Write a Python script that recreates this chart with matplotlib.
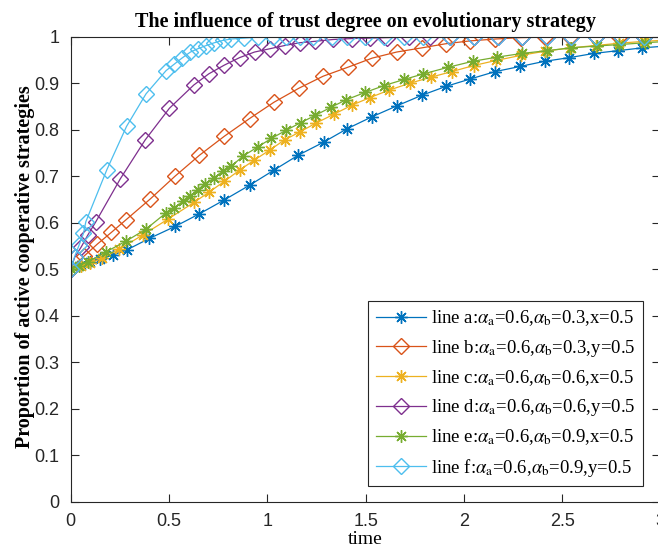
import numpy as np
import matplotlib
matplotlib.use("Agg")
import matplotlib.pyplot as plt

# (ode solver time points)
t_a = [0, 0.05, 0.10, 0.15, 0.213, 0.284, 0.40, 0.532, 0.655, 0.782, 0.912, 1.034, 1.157, 1.286,
       1.406, 1.534, 1.658, 1.786, 1.908, 2.032, 2.16, 2.286, 2.41, 2.537, 2.661, 2.784, 2.908, 3.0]
y_a = [0.5, 0.508, 0.515, 0.522, 0.530, 0.541, 0.566, 0.592, 0.619, 0.649, 0.681, 0.713, 0.745, 0.773,
       0.802, 0.828, 0.851, 0.874, 0.893, 0.909, 0.925, 0.936, 0.947, 0.955, 0.964, 0.970, 0.976, 0.979]

t_b = [0, 0.068, 0.136, 0.207, 0.281, 0.405, 0.531, 0.655, 0.782, 0.91, 1.034, 1.16, 1.284, 1.408,
       1.534, 1.658, 1.786, 1.91, 2.032, 2.16, 2.29, 2.415, 2.542, 2.67, 2.79, 2.917, 3.0]
y_b = [0.5, 0.528, 0.554, 0.579, 0.606, 0.651, 0.700, 0.745, 0.786, 0.824, 0.859, 0.889, 0.915, 0.934,
       0.954, 0.967, 0.976, 0.985, 0.991, 0.995, 0.998, 0.999, 1.0, 1.0, 1.0, 1.0, 1.0]

t_c = [0, 0.05, 0.10, 0.16, 0.247, 0.369, 0.493, 0.629, 0.702, 0.782, 0.859, 0.932, 1.012, 1.088,
       1.165, 1.247, 1.338, 1.432, 1.522, 1.619, 1.726, 1.833, 1.939, 2.05, 2.165, 2.292, 2.415,
       2.542, 2.67, 2.79, 2.917, 3.0]
y_c = [0.5, 0.506, 0.513, 0.523, 0.543, 0.574, 0.607, 0.644, 0.665, 0.689, 0.713, 0.734, 0.756, 0.778,
       0.795, 0.814, 0.833, 0.853, 0.869, 0.885, 0.900, 0.913, 0.925, 0.938, 0.949, 0.960, 0.969,
       0.976, 0.981, 0.986, 0.990, 0.992]

t_d = [0, 0.02, 0.054, 0.088, 0.128, 0.252, 0.379, 0.502, 0.626, 0.702, 0.782, 0.859, 0.935, 1.012,
       1.088, 1.165, 1.241, 1.335, 1.43, 1.522, 1.61, 1.72, 1.83, 1.93, 2.05, 2.173, 2.296, 2.423,
       2.547, 2.67, 2.797, 2.917, 3.0]
y_d = [0.5, 0.525, 0.548, 0.574, 0.602, 0.694, 0.778, 0.846, 0.896, 0.920, 0.939, 0.955, 0.967, 0.974,
       0.981, 0.987, 0.990, 0.994, 0.996, 0.997, 0.998, 0.999, 0.999, 1.0, 1.0, 1.0, 1.0, 1.0,
       1.0, 1.0, 1.0, 1.0, 1.0]

t_e = [0, 0.04, 0.09, 0.179, 0.281, 0.383, 0.485, 0.527, 0.570, 0.609, 0.646, 0.685, 0.731, 0.774,
       0.816, 0.876, 0.952, 1.02, 1.097, 1.17, 1.245, 1.323, 1.40, 1.497, 1.595, 1.696, 1.794,
       1.918, 2.044, 2.168, 2.296, 2.423, 2.547, 2.675, 2.79, 2.92, 3.0]
y_e = [0.5, 0.507, 0.516, 0.537, 0.560, 0.586, 0.621, 0.631, 0.646, 0.658, 0.671, 0.684, 0.696, 0.711,
       0.721, 0.743, 0.763, 0.781, 0.799, 0.815, 0.831, 0.848, 0.864, 0.880, 0.895, 0.908, 0.920,
       0.934, 0.947, 0.956, 0.964, 0.970, 0.976, 0.980, 0.983, 0.987, 0.989]

t_f = [0, 0.02, 0.043, 0.065, 0.077, 0.184, 0.284, 0.383, 0.485, 0.527, 0.566, 0.609, 0.646, 0.689,
       0.731, 0.774, 0.816, 0.884, 0.952, 1.029, 1.097, 1.165, 1.233, 1.327, 1.403, 1.497, 1.595,
       1.696, 1.794, 1.93, 2.05, 2.173, 2.296, 2.423, 2.547, 2.67, 2.797, 2.917, 3.0]
y_f = [0.5, 0.527, 0.552, 0.577, 0.602, 0.714, 0.807, 0.877, 0.927, 0.941, 0.954, 0.967, 0.974, 0.981,
       0.987, 0.992, 0.995, 0.997, 0.999, 1.0, 1.0, 1.0, 1.0, 1.0, 1.0, 1.0, 1.0,
       1.0, 1.0, 1.0, 1.0, 1.0, 1.0, 1.0, 1.0, 1.0, 1.0, 1.0, 1.0]

labels = [r"line a:$\alpha_{\mathrm{a}}$=0.6,$\alpha_{\mathrm{b}}$=0.3,x=0.5",
          r"line b:$\alpha_{\mathrm{a}}$=0.6,$\alpha_{\mathrm{b}}$=0.3,y=0.5",
          r"line c:$\alpha_{\mathrm{a}}$=0.6,$\alpha_{\mathrm{b}}$=0.6,x=0.5",
          r"line d:$\alpha_{\mathrm{a}}$=0.6,$\alpha_{\mathrm{b}}$=0.6,y=0.5",
          r"line e:$\alpha_{\mathrm{a}}$=0.6,$\alpha_{\mathrm{b}}$=0.9,x=0.5",
          r"line f:$\alpha_{\mathrm{a}}$=0.6,$\alpha_{\mathrm{b}}$=0.9,y=0.5"]

colors = ['#0072BD', '#D95319', '#EDB120', '#7E2F8E', '#77AC30', '#4DBEEE']
star = (8, 2, 0)
markers = [star, 'D', star, 'D', star, 'D']

plt.rcParams['mathtext.fontset'] = 'stix'
serif = 'Liberation Serif'
sans = 'Liberation Sans'

fig = plt.figure(figsize=(6.58, 5.51), dpi=100)
ax = fig.add_axes([70.7/658, 0.0898, 589.8/658, 0.8436])

series = [(t_a, y_a), (t_b, y_b), (t_c, y_c), (t_d, y_d), (t_e, y_e), (t_f, y_f)]
for (t, y), c, m, lab in zip(series, colors, markers, labels):
    ms = 9 if m == star else 8
    ax.plot(t, y, color=c, lw=0.9, marker=m, ms=ms, mfc='none', mec=c, mew=1.0,
            markevery=slice(0, len(t) - 1), label=lab)

ax.set_xlim(0, 3)
ax.set_ylim(0, 1)
ax.set_xticks(np.arange(0, 3.01, 0.5))
ax.set_xticklabels(['0', '0.5', '1', '1.5', '2', '2.5', '3'])
ax.set_yticks(np.arange(0, 1.01, 0.1))
ax.set_yticklabels(['0', '0.1', '0.2', '0.3', '0.4', '0.5', '0.6', '0.7', '0.8', '0.9', '1'])
ax.tick_params(direction='in', length=6, width=0.8, top=True, right=True,
               labelsize=13, colors='#262626', pad=8)
for lab in ax.get_xticklabels() + ax.get_yticklabels():
    lab.set_family(sans)
for s in ax.spines.values():
    s.set_color('#262626')
    s.set_linewidth(0.8)

ax.set_title('The influence of trust degree on evolutionary strategy', family=serif,
             fontsize=14.5, fontweight='bold', pad=7)
ax.set_xlabel('time', family=serif, fontsize=14, labelpad=1)
ax.set_ylabel('Proportion of active cooperative strategies', family=serif, fontsize=14.5,
              fontweight='bold')
ax.yaxis.set_label_coords(-0.060, 0.505)

leg = ax.legend(loc='lower right', bbox_to_anchor=(0.970, 0.033), prop={'family': serif, 'size': 13.5},
                handlelength=2.7, fancybox=False, framealpha=1, edgecolor='#262626',
                borderpad=0.4, labelspacing=0.5, handletextpad=0.25, borderaxespad=0)
leg.get_frame().set_linewidth(0.8)

fig.savefig('out.png', dpi=100)
